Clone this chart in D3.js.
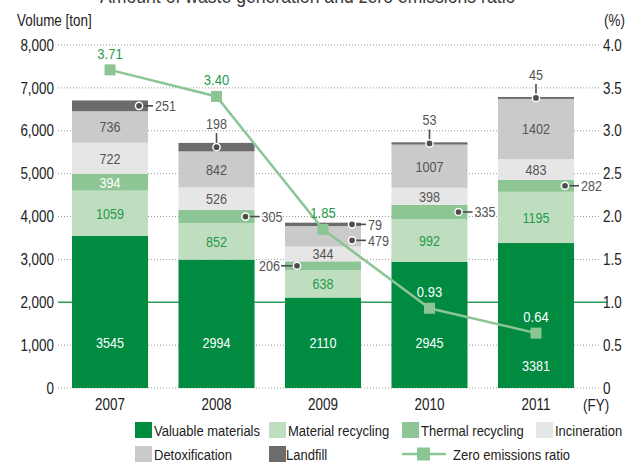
<!DOCTYPE html>
<html>
<head>
<meta charset="utf-8">
<script src="https://cdn.jsdelivr.net/npm/d3@7"></script>
<style>
  html, body { margin: 0; padding: 0; background: #fff; }
  svg { display: block; }
  text { font-family: "Liberation Sans", Arial, sans-serif; }
  /* narrow text face: horizontally compressed around its anchor */
  text.cs, text.cm, text.ce { transform-box: fill-box; transform: scaleX(0.84); }
  text.cs { transform-origin: left center; }
  text.cm { transform-origin: center center; }
  text.ce { transform-origin: right center; }
</style>
</head>
<body>
<svg id="chart" width="627" height="462"></svg>
<script>
// Fiscal years
const years = ["2007", "2008", "2009", "2010", "2011"];

// Waste volume by treatment (tons)
const valuableMaterials = [3545, 2994, 2110, 2945, 3381];
const materialRecycling = [1059, 852, 638, 992, 1195];
const thermalRecycling  = [394, 305, 206, 335, 282];
const incineration      = [722, 526, 344, 398, 483];
const detoxification    = [736, 842, 479, 1007, 1402];
const landfill          = [251, 198, 79, 53, 45];

// Zero emissions ratio (%)
const zeroEmissionsRatio = [3.71, 3.40, 1.85, 0.93, 0.64];

// Axis ticks
const volumeTicks = [0, 1000, 2000, 3000, 4000, 5000, 6000, 7000, 8000];
const ratioTicks  = [0, 0.5, 1.0, 1.5, 2.0, 2.5, 3.0, 3.5, 4.0];

const seriesNames = ["Valuable materials", "Material recycling", "Thermal recycling",
                     "Incineration", "Detoxification", "Landfill"];
const seriesValues = [valuableMaterials, materialRecycling, thermalRecycling,
                      incineration, detoxification, landfill];
const seriesColors = ["#008b40", "#bfdebf", "#8dc594", "#e6e6e6", "#c9cac9", "#6c6c6c"];
const labelColors = ["#ffffff", "#1f9a4b", "#ffffff", "#555555", "#555555", "#555555"];
const lineColor = "#8cc594";
const ratioLabelColor = "#1f9a4b";

const svg = d3.select("#chart");

const x = d3.scaleBand().domain(years).range([72, 574]).paddingInner(0.286).paddingOuter(0);
const y = d3.scaleLinear().domain([0, 8000]).range([388, 45]);
const yR = d3.scaleLinear().domain([0, 4]).range([388, 45]);
const cxOf = i => x(years[i]) + x.bandwidth() / 2;

const plotLeft = 58, plotRight = 600;

// Heading, partly above the top edge
svg.append("text")
  .attr("class", "cs")
  .attr("x", 100).attr("y", 3)
  .attr("font-size", 21)
  .attr("fill", "#3a3a3a")
  .text("Amount of waste generation and zero emissions ratio");

// Axis titles
svg.append("text").attr("class", "cs").attr("x", 17).attr("y", 26).attr("font-size", 16)
  .attr("fill", "#222").text("Volume [ton]");
svg.append("text").attr("class", "ce").attr("x", 625).attr("y", 26).attr("font-size", 16)
  .attr("fill", "#222").attr("text-anchor", "end").text("(%)");

// Gridlines (2,000 t / 1.0 % reference line in green)
const grid = svg.append("g");
volumeTicks.forEach(v => {
  const isRef = v === 2000;
  grid.append("line")
    .attr("x1", plotLeft).attr("x2", isRef ? 607 : plotRight)
    .attr("y1", y(v)).attr("y2", y(v))
    .attr("stroke", isRef ? "#2d9a55" : "#9a9a9a")
    .attr("stroke-width", isRef ? 1.6 : 1)
    .attr("stroke-dasharray", isRef ? null : "1,2");
});

// Left axis (volume)
const leftAxis = d3.axisLeft(y).tickValues(volumeTicks).tickSize(0).tickPadding(0)
  .tickFormat(d3.format(","));
svg.append("g").attr("transform", "translate(54,0)").call(leftAxis)
  .call(g => g.select(".domain").remove())
  .call(g => g.selectAll("text").attr("class", "ce").attr("font-size", 16).attr("fill", "#222")
    .attr("font-family", null));

// Right axis (ratio)
const rightAxis = d3.axisRight(yR).tickValues(ratioTicks).tickSize(0).tickPadding(0)
  .tickFormat(d => d === 0 ? "0" : d3.format(".1f")(d));
svg.append("g").attr("transform", "translate(603,0)").call(rightAxis)
  .call(g => g.select(".domain").remove())
  .call(g => g.selectAll("text").attr("class", "cs").attr("font-size", 16).attr("fill", "#222")
    .attr("font-family", null));

// Bottom axis (years)
const bottomAxis = d3.axisBottom(x).tickSize(0).tickPadding(0);
svg.append("g").attr("transform", "translate(0,399)").call(bottomAxis)
  .call(g => g.select(".domain").remove())
  .call(g => g.selectAll("text").attr("class", "cm").attr("font-size", 16).attr("fill", "#222")
    .attr("dy", "0.71em").attr("font-family", null));
svg.append("text").attr("class", "cs").attr("x", 583).attr("y", 411).attr("font-size", 16)
  .attr("fill", "#222").text("(FY)");

// Stacked bars
const rows = years.map((yr, i) => {
  const r = { year: yr };
  seriesNames.forEach((s, k) => r[s] = seriesValues[k][i]);
  return r;
});
const stack = d3.stack().keys(seriesNames)(rows);

const barsG = svg.append("g");
stack.forEach((layer, k) => {
  barsG.selectAll(null).data(layer).enter().append("rect")
    .attr("x", d => x(d.data.year))
    .attr("width", x.bandwidth())
    .attr("y", d => y(d[1]))
    .attr("height", d => y(d[0]) - y(d[1]))
    .attr("fill", seriesColors[k]);
});

// y of the ratio polyline at a given x
function lineYAt(px) {
  for (let i = 0; i < years.length - 1; i++) {
    const x0 = cxOf(i), x1 = cxOf(i + 1);
    if (px >= x0 && px <= x1) {
      const t = (px - x0) / (x1 - x0);
      return yR(zeroEmissionsRatio[i]) * (1 - t) + yR(zeroEmissionsRatio[i + 1]) * t;
    }
  }
  return -1000;
}

// Segment labels
const labelsG = svg.append("g").attr("font-size", 15);
const calloutColor = "#4d4d4d";

function callout(cx, cy, dir, text, barLeft, barRight) {
  const g = labelsG.append("g");
  let dotX = cx, x2 = cx, y2 = cy;
  if (dir === "right") { dotX = barRight - 9; x2 = barRight + 5; }
  else if (dir === "left") { dotX = barLeft + 12; x2 = barLeft - 4; }
  else { y2 = cy - 14; }
  g.append("line").attr("x1", dotX).attr("x2", x2).attr("y1", cy).attr("y2", y2)
    .attr("stroke", calloutColor).attr("stroke-width", 1.6);
  g.append("circle").attr("cx", dotX).attr("cy", cy).attr("r", 3.6)
    .attr("fill", calloutColor).attr("stroke", "#fff").attr("stroke-width", 1.5);
  const t = g.append("text").attr("fill", "#555").text(text);
  if (dir === "right") t.attr("class", "cs").attr("x", barRight + 7).attr("y", cy).attr("dy", "0.36em");
  else if (dir === "left") t.attr("class", "ce").attr("x", barLeft - 5).attr("y", cy).attr("dy", "0.36em")
    .attr("text-anchor", "end");
  else t.attr("class", "cm").attr("x", cx).attr("y", cy - 18).attr("text-anchor", "middle");
}

// Side callouts are stacked so neighbouring values keep at least this gap
const calloutGap = 16;
const lastRightCallout = years.map(() => -Infinity);

const valuableLabelLevel = 1050;
// draw from the top layer down so stacked side callouts push downward
for (let k = stack.length - 1; k >= 0; k--) {
  stack[k].forEach((d, i) => {
    const v = d[1] - d[0];
    const left = x(d.data.year), right = left + x.bandwidth();
    const cx = left + x.bandwidth() / 2;
    const top = y(d[1]), bottom = y(d[0]);
    let cy = (top + bottom) / 2;
    const h = bottom - top;
    const py = yR(zeroEmissionsRatio[i]);
    const name = seriesNames[k];
    const side = () => {
      const hitsLine = Math.abs(lineYAt(right + 15) - cy) < 14;
      const dir = hitsLine ? "left" : "right";
      if (dir === "right") {
        cy = Math.max(cy, lastRightCallout[i] + calloutGap);
        lastRightCallout[i] = cy;
      }
      callout(cx, cy, dir, v, left, right);
    };
    if (name === "Valuable materials") {
      const ly = Math.abs(py - y(valuableLabelLevel)) < 16 ? y(valuableLabelLevel / 2) : y(valuableLabelLevel);
      labelsG.append("text").attr("class", "cm").attr("x", cx).attr("y", ly).attr("dy", "0.36em")
        .attr("text-anchor", "middle").attr("fill", labelColors[k]).text(v);
    } else if (name === "Landfill") {
      // marker just above or on the bar top: put the value to the side
      if (py > top - 40 && py < top + 30) side();
      else callout(cx, cy, "up", v, left, right);
    } else if (h >= 14.5 && !(py > top && py < bottom)) {
      labelsG.append("text").attr("class", "cm").attr("x", cx).attr("y", cy).attr("dy", "0.36em")
        .attr("text-anchor", "middle").attr("fill", labelColors[k]).text(v);
    } else {
      side();
    }
  });
}

// Zero emissions ratio line
const line = d3.line().x((d, i) => cxOf(i)).y(d => yR(d));
svg.append("path").datum(zeroEmissionsRatio)
  .attr("d", line).attr("fill", "none").attr("stroke", lineColor).attr("stroke-width", 2.5);
const sq = 11;
svg.append("g").selectAll("rect").data(zeroEmissionsRatio).enter().append("rect")
  .attr("x", (d, i) => cxOf(i) - sq / 2)
  .attr("y", d => yR(d) - sq / 2)
  .attr("width", sq).attr("height", sq)
  .attr("fill", lineColor);
svg.append("g").attr("font-size", 15.5).selectAll("text").data(zeroEmissionsRatio).enter().append("text")
  .attr("class", "cm")
  .attr("x", (d, i) => cxOf(i))
  .attr("y", d => yR(d) - 11)
  .attr("text-anchor", "middle")
  .attr("fill", (d, i) => yR(d) - 16 > y(valuableMaterials[i]) ? "#ffffff" : ratioLabelColor)
  .text(d => d3.format(".2f")(d));

// Legend
const legend = svg.append("g").attr("font-size", 15.5).attr("fill", "#222");
const legendPos = [[135, 422], [269, 422], [402, 422], [536, 422], [135, 446], [269, 446]];
seriesNames.forEach((s, k) => {
  const [lx, ly] = legendPos[k];
  legend.append("rect").attr("x", lx).attr("y", ly).attr("width", 17).attr("height", 16)
    .attr("fill", seriesColors[k]);
  legend.append("text").attr("class", "cs").attr("x", lx + (k === 5 ? 17 : 19)).attr("y", ly + 8)
    .attr("dy", "0.36em").text(s);
});
legend.append("line").attr("x1", 402).attr("x2", 446).attr("y1", 454).attr("y2", 454)
  .attr("stroke", lineColor).attr("stroke-width", 2.5);
legend.append("rect").attr("x", 417).attr("y", 447.5).attr("width", 13).attr("height", 13).attr("fill", lineColor);
legend.append("text").attr("class", "cs").attr("x", 453).attr("y", 454).attr("dy", "0.36em")
  .text("Zero emissions ratio");
</script>
</body>
</html>
